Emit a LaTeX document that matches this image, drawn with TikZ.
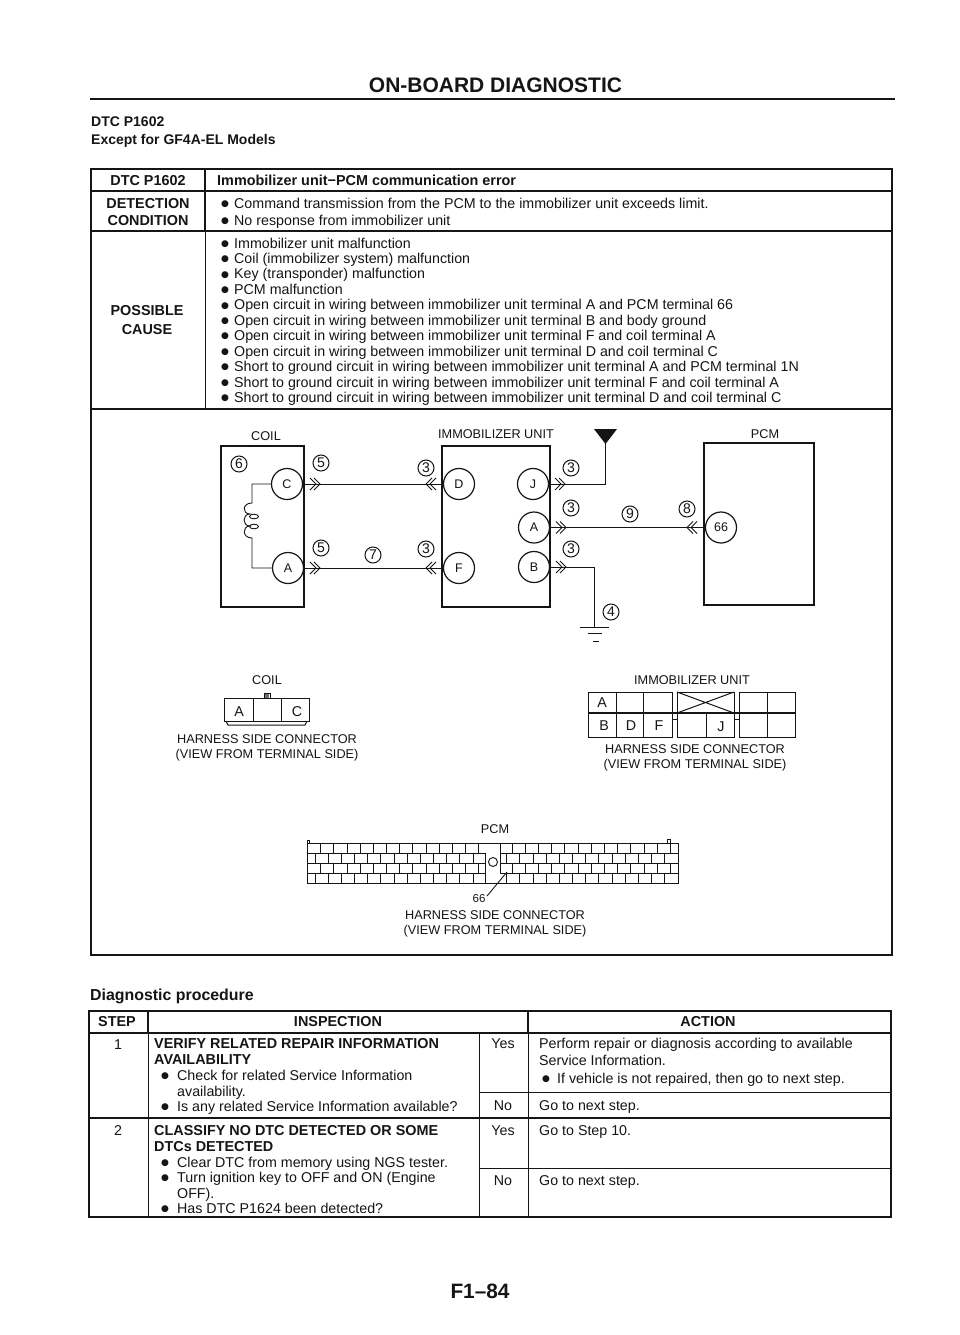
\documentclass[tikz,border=0pt]{standalone}
\usepackage{fontspec}
\setmainfont{Liberation Sans}
\newfontfamily\dejavu{DejaVu Sans}
\usetikzlibrary{calc}
\definecolor{ink}{HTML}{151515}
\newcommand{\bu}[1][13pt]{\makebox[#1][l]{\raisebox{1.8pt}{\dejavu\fontsize{9}{9}\selectfont ●}}}
\tikzset{
 ln/.style={inner sep=0pt,text height=10.5pt,text depth=0.5pt,text=ink,font=\fontsize{14.25}{15}\selectfont},
 lnb/.style={ln,font=\fontsize{14.4}{15}\bfseries\selectfont},
 small/.style={inner sep=0pt,text height=9pt,text depth=0pt,text=ink,font=\fontsize{12.7}{13}\selectfont},
 tbl/.style={draw=ink,line width=1.5pt},
 tblthin/.style={draw=ink,line width=0.9pt},
 unitbox/.style={draw=ink,line width=1.4pt,inner sep=0pt},
 term/.style={circle,draw=ink,line width=1.2pt,minimum size=31pt,inner sep=0pt,text=ink,font=\fontsize{12.5}{13}\selectfont},
 callout/.style={circle,draw=ink,line width=1pt,minimum size=16pt,inner sep=0pt,text=ink,font=\fontsize{14}{14}\selectfont},
 wire/.style={draw=ink,line width=1pt},
 thinw/.style={draw=ink,line width=0.9pt},
 conn/.style={draw=ink,line width=1pt},
 chevr/.pic={\draw[ink,line width=0.9pt] (-5,-6)--(1,0)--(-5,6) (-1,-6)--(5,0)--(-1,6);},
 chevl/.pic={\draw[ink,line width=0.9pt] (5,-6)--(-1,0)--(5,6) (1,-6)--(-5,0)--(1,6);},
}
\begin{document}
\begin{tikzpicture}[x=1pt,y=-1pt]
\fill[white] (0,0) rectangle (960,1335);
\useasboundingbox (0,0) rectangle (960,1335);

% page headings
\node[lnb,font=\fontsize{21}{22}\bfseries\selectfont,text height=14pt] (title) at (495.5,86) {ON-BOARD DIAGNOSTIC};
\draw[ink,line width=2.4pt] (90,99) -- (895,99);
\node[lnb,anchor=west,font=\fontsize{14}{15}\bfseries\selectfont] (h1) at (91,122) {DTC P1602};
\node[lnb,anchor=west,font=\fontsize{14}{15}\bfseries\selectfont] (h2) at (91,139) {Except for GF4A-EL Models};
\node[lnb,anchor=west,font=\fontsize{15.9}{16}\bfseries\selectfont] (h3) at (90,995) {Diagnostic procedure};
\node[lnb,font=\fontsize{20.8}{22}\bfseries\selectfont,text height=14pt] (foot) at (480,1292) {F1–84};

% upper table
\draw[tbl] (91,169) rectangle (892,955);
\draw[tbl] (91,191) -- (892,191) (91,231) -- (892,231);
\draw[tbl] (91,409) -- (892,409);
\draw[tbl] (205,169) -- (205,231);
\draw[tblthin] (205,231) -- (205,409);
\node[lnb] (t1) at (148,180) {DTC P1602};
\node[lnb,anchor=west] (t2) at (217,180) {Immobilizer unit−PCM communication error};
\node[lnb] (t3) at (148,203) {DETECTION};
\node[lnb] (t4) at (148,220) {CONDITION};
\node[lnb] (t5) at (147,310) {POSSIBLE};
\node[lnb] (t6) at (147,329) {CAUSE};
\node[ln,anchor=west] (t7) at (221,203) {\bu Command transmission from the PCM to the immobilizer unit exceeds limit.};
\node[ln,anchor=west] (t8) at (221,220) {\bu No response from immobilizer unit};
\foreach \t [count=\i from 0] in {
 Immobilizer unit malfunction,
 Coil (immobilizer system) malfunction,
 Key (transponder) malfunction,
 PCM malfunction,
 Open circuit in wiring between immobilizer unit terminal A and PCM terminal 66,
 Open circuit in wiring between immobilizer unit terminal B and body ground,
 Open circuit in wiring between immobilizer unit terminal F and coil terminal A,
 Open circuit in wiring between immobilizer unit terminal D and coil terminal C,
 Short to ground circuit in wiring between immobilizer unit terminal A and PCM terminal 1N,
 Short to ground circuit in wiring between immobilizer unit terminal F and coil terminal A,
 Short to ground circuit in wiring between immobilizer unit terminal D and coil terminal C}
 \node[ln,anchor=west] (cause\i) at (221,{243+15.45*\i}) {\bu \t};

% wiring diagram boxes
\node[small] (lcoil) at (266,436) {COIL};
\node[small] (limm) at (496,434) {IMMOBILIZER UNIT};
\node[small] (lpcm) at (765,434) {PCM};
\node[unitbox,minimum width=83pt,minimum height=161pt] (coil) at (262.5,526.5) {};
\node[unitbox,minimum width=108pt,minimum height=161pt] (imm) at (496,526.5) {};
\node[unitbox,minimum width=110pt,minimum height=162pt] (pcm) at (759,524) {};

\node[term] (tC) at (287,484) {C};
\node[term] (tA) at (288,568) {A};
\node[term] (tD) at (459,484) {D};
\node[term] (tF) at (459,568) {F};
\node[term] (tJ) at (533,484) {J};
\node[term] (tIA) at (534,527.5) {A};
\node[term] (tB) at (534,567) {B};
\node[term] (t66) at (721,527.5) {66};

\coordinate (coilT) at (252,484);
\coordinate (coilB) at (252,568);
\coordinate (ant) at (605,484);
\coordinate (antT) at (605,442);
\coordinate (gnd0) at (594,567);
\coordinate (gnd) at (594,627);

\draw[thinw] (tC.west) -- (coilT) -- (252,503)
  .. controls (242,503) and (242,514) .. (250,514)
  .. controls (242,514) and (242,526) .. (250,526)
  .. controls (242,526) and (242,538) .. (252,538)
  -- (coilB) -- (tA.west);
\draw[thinw] (254,516.5) ellipse (4.5 and 2.3);
\draw[thinw] (254,526.5) ellipse (4.5 and 2.3);

\draw[wire] (tC.east) -- (tD.west);
\draw[wire] (tA.east) -- (tF.west);
\draw[wire] (tIA.east) -- (t66.west);
\draw[wire] (tJ.east) -- (ant) -- (antT);
\draw[wire] (tB.east) -- (gnd0) -- (gnd);
\fill[ink] (594,429) -- (617,429) -- (605.5,444) -- cycle;
\draw[thinw] (580,627) -- (609,627) (588,633.5) -- (602,633.5) (593,641) -- (599,641);

\pic at (315,484) {chevr};
\pic at (315,568) {chevr};
\pic at (431,484) {chevl};
\pic at (431,568) {chevl};
\pic at (560,484) {chevr};
\pic at (561,527.5) {chevr};
\pic at (561,567) {chevr};
\pic at (692,527.5) {chevl};

\node[callout] (n6) at (239,464) {6};
\node[callout] (n5a) at (321,463) {5};
\node[callout] (n3a) at (426,468) {3};
\node[callout] (n5b) at (321,548) {5};
\node[callout] (n7) at (373,555) {7};
\node[callout] (n3b) at (426,549) {3};
\node[callout] (n3c) at (571,468) {3};
\node[callout] (n3d) at (571,508) {3};
\node[callout] (n3e) at (571,549) {3};
\node[callout] (n4) at (611,612) {4};
\node[callout] (n8) at (687,509) {8};
\node[callout] (n9) at (630,514) {9};

% coil connector
\node[small] (ccoil) at (267,680) {COIL};
\draw[conn] (224,698) -- (309,698) -- (309,721) -- (224,721) -- cycle;
\draw[conn] (253,698) -- (253,721) (281,698) -- (281,721);
\draw[conn] (226,721) -- (228,725) -- (305,725) -- (307,721);
\draw[conn] (264,698) -- (264,693) -- (270,693) -- (270,698);
\fill[ink!60] (265,694) rectangle (269,698);
\node[ln] (ca) at (239,711) {A};
\node[ln] (cc) at (297,711) {C};
\node[small] (ch1) at (267,739) {HARNESS SIDE CONNECTOR};
\node[small] (ch2) at (267,754) {(VIEW FROM TERMINAL SIDE)};

% immobilizer connector
\node[small] (cimm) at (692,680) {IMMOBILIZER UNIT};
\draw[conn] (588,692) rectangle (672,737);
\draw[conn] (677,692) rectangle (734,737);
\draw[conn] (739,692) rectangle (795,737);
\draw[draw=ink,line width=1.3pt] (588,713) -- (795,713);
\draw[conn] (616,692) -- (616,737) (643,692) -- (643,737);
\draw[conn] (706,713) -- (706,737);
\draw[conn] (767,692) -- (767,737);
\draw[conn] (677,692) -- (734,713) (677,713) -- (734,692);
\draw[conn] (672,719) -- (677,719) (734,719) -- (739,719);
\node[ln] (ia) at (602,702) {A};
\node[ln] (ib) at (604,725) {B};
\node[ln] (id) at (631,725) {D};
\node[ln] (if) at (659,725) {F};
\node[ln] (ij) at (721,726) {J};
\node[small] (ih1) at (695,749) {HARNESS SIDE CONNECTOR};
\node[small] (ih2) at (695,764) {(VIEW FROM TERMINAL SIDE)};

% PCM connector
\node[small] (cpcm) at (495,829) {PCM};
\draw[conn] (307,843) rectangle (678,883);
\draw[conn] (307,853) -- (478,853) -- (478,843) (478,853) -- (485,853) -- (485,883);
\draw[conn] (307,863) -- (485,863) (307,873) -- (485,873);
\draw[conn] (500,843) -- (500,873) -- (506.7,873) -- (506.7,883);
\draw[conn] (500,853) -- (678,853) (500,863) -- (678,863) (500,873) -- (678,873);
\foreach \i in {0,...,12} {
  \draw[conn] ({320.7+13.17*\i},843) -- ({320.7+13.17*\i},853);
  \draw[conn] ({320.7+13.17*\i},863) -- ({320.7+13.17*\i},873);
}
\foreach \i in {0,...,12} {
  \draw[conn] ({315+13.17*\i},853) -- ({315+13.17*\i},863);
  \draw[conn] ({315+13.17*\i},873) -- ({315+13.17*\i},883);
}
\foreach \i in {0,...,12} {
  \draw[conn] ({506.7+13.17*\i},853) -- ({506.7+13.17*\i},863);
  \draw[conn] ({506.7+13.17*\i},873) -- ({506.7+13.17*\i},883);
}
\foreach \i in {0,...,12} {
  \draw[conn] ({512.3+13.17*\i},843) -- ({512.3+13.17*\i},853);
  \draw[conn] ({512.3+13.17*\i},863) -- ({512.3+13.17*\i},873);
}
\draw[conn] (307,843) -- (307,840) -- (309,840) -- (309,843);
\draw[conn] (667,843) -- (667,839) -- (670,839) -- (670,843);
\node[circle,draw=ink,line width=0.9pt,minimum size=9pt,inner sep=0pt] (hole) at (493,862) {};
\node[small,font=\fontsize{11.5}{13}\selectfont] (p66) at (479,898) {66};
\coordinate (pin66) at (507,872);
\draw[thinw] (pin66) -- (487,896);
\node[small] (ph1) at (495,915) {HARNESS SIDE CONNECTOR};
\node[small] (ph2) at (495,930) {(VIEW FROM TERMINAL SIDE)};

% lower table
\draw[tbl] (89,1011) rectangle (891,1217);
\draw[tbl] (89,1033) -- (891,1033) (89,1118) -- (891,1118);
\draw[tbl] (148,1011) -- (148,1033);
\draw[tblthin] (148,1033) -- (148,1217);
\draw[tbl] (528,1011) -- (528,1033);
\draw[tblthin] (528,1033) -- (528,1217);
\draw[tblthin] (479,1033) -- (479,1217);
\draw[tblthin] (479,1092) -- (891,1092) (479,1168) -- (891,1168);
\node[lnb] (s1) at (117,1021) {STEP};
\node[lnb] (s2) at (338,1021) {INSPECTION};
\node[lnb] (s3) at (708,1021) {ACTION};
\node[ln] (s4) at (118,1044) {1};
\node[ln] (s5) at (118,1130) {2};
\node[lnb,anchor=west] (i1) at (154,1043) {VERIFY RELATED REPAIR INFORMATION};
\node[lnb,anchor=west] (i2) at (154,1059) {AVAILABILITY};
\node[ln,anchor=west] (i3) at (161,1075) {\bu[16pt]Check for related Service Information};
\node[ln,anchor=west] (i4) at (177,1091) {availability.};
\node[ln,anchor=west] (i5) at (161,1106) {\bu[16pt]Is any related Service Information available?};
\node[lnb,anchor=west] (i6) at (154,1130) {CLASSIFY NO DTC DETECTED OR SOME};
\node[lnb,anchor=west] (i7) at (154,1146) {DTCs DETECTED};
\node[ln,anchor=west] (i8) at (161,1162) {\bu[16pt]Clear DTC from memory using NGS tester.};
\node[ln,anchor=west] (i9) at (161,1177) {\bu[16pt]Turn ignition key to OFF and ON (Engine};
\node[ln,anchor=west] (i10) at (177,1193) {OFF).};
\node[ln,anchor=west] (i11) at (161,1208) {\bu[16pt]Has DTC P1624 been detected?};
\node[ln] (y1) at (503,1043) {Yes};
\node[ln] (n1) at (503,1105) {No};
\node[ln] (y2) at (503,1130) {Yes};
\node[ln] (n2) at (503,1180) {No};
\node[ln,anchor=west] (a1) at (539,1043) {Perform repair or diagnosis according to available};
\node[ln,anchor=west] (a2) at (539,1060) {Service Information.};
\node[ln,anchor=west] (a3) at (542,1078) {\bu[15pt]If vehicle is not repaired, then go to next step.};
\node[ln,anchor=west] (a4) at (539,1105) {Go to next step.};
\node[ln,anchor=west] (a5) at (539,1130) {Go to Step 10.};
\node[ln,anchor=west] (a6) at (539,1180) {Go to next step.};
\end{tikzpicture}
\end{document}
